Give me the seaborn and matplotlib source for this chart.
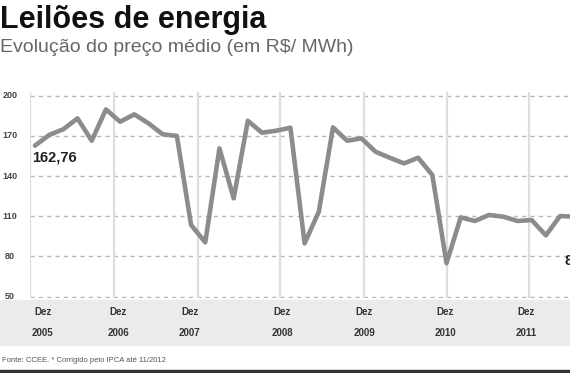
import matplotlib
matplotlib.use("Agg")
import matplotlib.pyplot as plt
import numpy as np
import pandas as pd
import seaborn as sns
from matplotlib.patches import Rectangle

# preço médio por leilão (R$/MWh), em ordem cronológica
precos = [162.76, 170.7, 175.0, 183.1, 166.4, 189.8, 180.6, 186.1, 179.4,
          171.2, 170.0, 103.5, 90.6, 160.7, 123.4, 181.3, 172.4, 173.9,
          176.1, 89.8, 113.4, 176.4, 166.4, 168.2, 158.2, 153.7, 149.5,
          153.7, 140.8, 75.0, 109.2, 106.5, 111.0, 109.7, 106.5, 107.2,
          95.8, 110.2, 109.7]
y_ticks = [50, 80, 110, 140, 170, 200]
anos = ["2005", "2006", "2007", "2008", "2009", "2010", "2011"]
# posicao (em leiloes) da linha de dezembro de cada ano e do rotulo
linhas_dez = [-0.35, 5.6, 11.5, 17.3, 23.2, 29.0, 34.8]
rotulos_dez = [0.56, 5.85, 10.9, 17.4, 23.2, 28.9, 34.6]

df = pd.DataFrame({"leilao": np.arange(len(precos)), "preco": precos})

sns.set_style("white")
plt.rcParams["font.family"] = ["Liberation Sans", "DejaVu Sans"]

W, H = 570, 373
fig = plt.figure(figsize=(W / 100, H / 100), dpi=100)

# faixa cinza dos rotulos de ano
fig.patches.append(Rectangle((0, 1 - 345 / H), 1, 45 / H, transform=fig.transFigure,
                             color="#ebebeb", zorder=0))
# filete escuro no rodape
fig.patches.append(Rectangle((0, 0), 1, 3 / H, transform=fig.transFigure,
                             color="#333333", zorder=0))

ax = fig.add_axes([30 / W, 1 - 298 / H, 540 / W, 206 / H])
ax.set_facecolor("none")
for s in ax.spines.values():
    s.set_visible(False)

for v in y_ticks:
    ax.axhline(v, color="#b5b5b5", lw=1.0, ls=(0, (3, 3)), zorder=1)
for x in linhas_dez:
    ax.axvline(x, color="#dddddd", lw=1.6, zorder=1)

sns.lineplot(data=df, x="leilao", y="preco", ax=ax, color="#8c8c8c", lw=3.3,
             zorder=3, legend=False)

ax.set_xlim(-0.35, 37.7)
ax.set_ylim(49.0, 202.8)
ax.set_xticks([])
ax.set_yticks([])
ax.set_xlabel("")
ax.set_ylabel("")

for v in y_ticks:
    ax.text(-20 / 14.2 - 0.35, v, str(v), ha="center", va="center", fontsize=6.5,
            fontweight="bold", color="#444444", clip_on=False)

ax.text(df["leilao"][0] - 0.2, precos[0] - 9, "162,76", ha="left", va="center",
        fontsize=10.5, fontweight="bold", color="#222222")
# rotulo do ultimo ponto, cortado na borda como no original
ax.text(37.3, 77, "86,9", ha="left", va="center", fontsize=10.5,
        fontweight="bold", color="#222222", clip_on=False)

for pos, ano in zip(rotulos_dez, anos):
    xf = (30 + (pos + 0.35) * 14.2) / W
    fig.text(xf, 1 - 312 / H, "Dez", ha="center", va="center", fontsize=7,
             fontweight="bold", color="#333333")
    fig.text(xf, 1 - 333 / H, ano, ha="center", va="center", fontsize=7,
             fontweight="bold", color="#333333")

fig.text(0.0, 1 - 20 / H, "Leilões de energia", ha="left", va="center",
         fontsize=22, fontweight="bold", color="#111111")
fig.text(0.0, 1 - 48 / H, "Evolução do preço médio (em R$/ MWh)", ha="left",
         va="center", fontsize=14, color="#666666")
fig.text(0.003, 1 - 361 / H, "Fonte: CCEE. * Corrigido pelo IPCA até 11/2012",
         ha="left", va="center", fontsize=5.5, color="#555555")

fig.savefig("out.png", dpi=100)
